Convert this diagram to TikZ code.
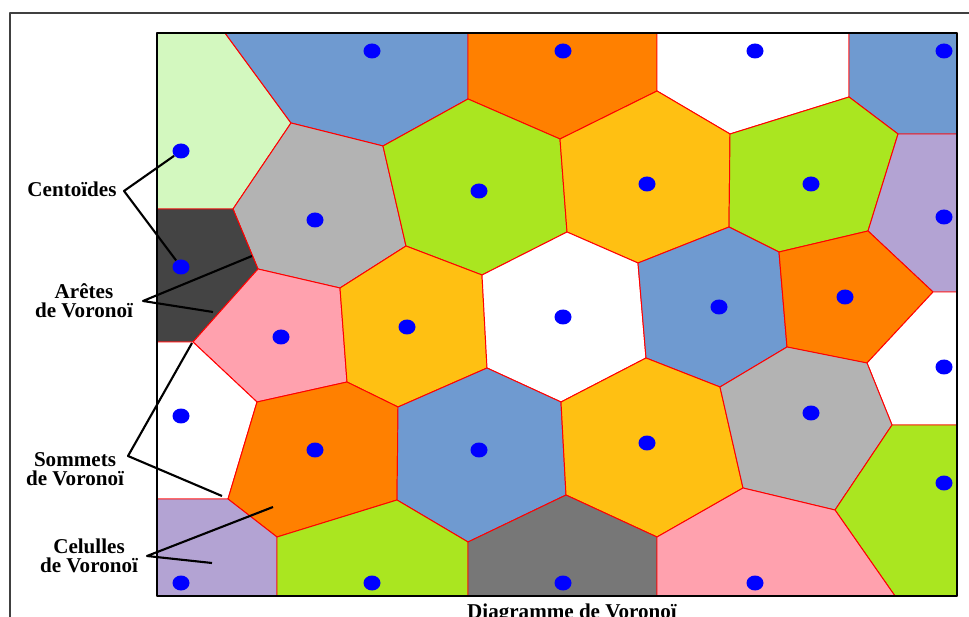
\documentclass[tikz,border=0pt]{standalone}
\usepackage{fontspec}
\setmainfont{Liberation Serif}
\usetikzlibrary{shapes.geometric}
\definecolor{cLime}{HTML}{D3F8BF}
\definecolor{cBlue}{HTML}{6F9AD0}
\definecolor{cOrange}{HTML}{FF8000}
\definecolor{cGrey}{HTML}{B3B3B3}
\definecolor{cGreen}{HTML}{AAE620}
\definecolor{cYellow}{HTML}{FFC012}
\definecolor{cBlack}{HTML}{444444}
\definecolor{cPink}{HTML}{FFA1AE}
\definecolor{cPurple}{HTML}{B3A3D3}
\definecolor{cDark}{HTML}{777777}
\begin{document}
\begin{tikzpicture}[x=0.02cm,y=-0.02cm,line join=round,
  cell/.style={draw=red,line width=0.55pt},
  site/.style={ellipse,fill=blue,inner sep=0pt,minimum width=0.34cm,minimum height=0.30cm},
  lead/.style={line width=1.2pt},
  lab/.style={font=\bfseries\fontsize{12}{10.6}\selectfont,align=center,inner sep=0pt}]
  \useasboundingbox (0,0) rectangle (969,617);
  \draw[line width=0.7pt,black!75] (10,640) -- (10,13) -- (990,13);
  \filldraw[cell,fill=cLime] (157,33) -- (225,33) -- (291,123) -- (233,209) -- (157,209) -- cycle;
  \filldraw[cell,fill=cBlue] (225,33) -- (468,33) -- (468,99) -- (383,146) -- (291,123) -- cycle;
  \filldraw[cell,fill=cOrange] (468,33) -- (657,33) -- (657,91) -- (560,139) -- (468,99) -- cycle;
  \filldraw[cell,fill=white] (657,33) -- (849,33) -- (849,97) -- (730,134) -- (657,91) -- cycle;
  \filldraw[cell,fill=cBlue] (849,33) -- (957,33) -- (957,134) -- (898,134) -- (849,97) -- cycle;
  \filldraw[cell,fill=cGrey] (291,123) -- (383,146) -- (406,246) -- (340,288) -- (258,269) -- (233,209) -- cycle;
  \filldraw[cell,fill=cGreen] (383,146) -- (468,99) -- (560,139) -- (567,232) -- (482,275) -- (406,246) -- cycle;
  \filldraw[cell,fill=cYellow] (560,139) -- (657,91) -- (730,134) -- (729,227) -- (638,263) -- (567,232) -- cycle;
  \filldraw[cell,fill=cGreen] (730,134) -- (849,97) -- (898,134) -- (868,231) -- (779,252) -- (729,227) -- cycle;
  \filldraw[cell,fill=cPurple] (898,134) -- (957,134) -- (957,292) -- (933,292) -- (868,231) -- cycle;
  \filldraw[cell,fill=cBlack] (157,209) -- (233,209) -- (258,269) -- (193,342) -- (157,342) -- cycle;
  \filldraw[cell,fill=cPink] (258,269) -- (340,288) -- (347,382) -- (257,402) -- (193,342) -- cycle;
  \filldraw[cell,fill=cYellow] (406,246) -- (482,275) -- (487,368) -- (398,407) -- (347,382) -- (340,288) -- cycle;
  \filldraw[cell,fill=white] (482,275) -- (567,232) -- (638,263) -- (646,358) -- (561,402) -- (487,368) -- cycle;
  \filldraw[cell,fill=cBlue] (638,263) -- (729,227) -- (779,252) -- (787,347) -- (720,387) -- (646,358) -- cycle;
  \filldraw[cell,fill=cOrange] (779,252) -- (868,231) -- (933,292) -- (867,363) -- (787,347) -- cycle;
  \filldraw[cell,fill=white] (933,292) -- (957,292) -- (957,425) -- (892,425) -- (867,363) -- cycle;
  \filldraw[cell,fill=white] (157,342) -- (193,342) -- (257,402) -- (228,499) -- (157,499) -- cycle;
  \filldraw[cell,fill=cOrange] (257,402) -- (347,382) -- (398,407) -- (397,500) -- (277,537) -- (228,499) -- cycle;
  \filldraw[cell,fill=cBlue] (398,407) -- (487,368) -- (561,402) -- (566,495) -- (468,542) -- (397,500) -- cycle;
  \filldraw[cell,fill=cYellow] (561,402) -- (646,358) -- (720,387) -- (743,488) -- (657,537) -- (566,495) -- cycle;
  \filldraw[cell,fill=cGrey] (720,387) -- (787,347) -- (867,363) -- (892,425) -- (835,510) -- (743,488) -- cycle;
  \filldraw[cell,fill=cGreen] (892,425) -- (957,425) -- (957,596) -- (895,596) -- (835,510) -- cycle;
  \filldraw[cell,fill=cPurple] (157,499) -- (228,499) -- (277,537) -- (277,596) -- (157,596) -- cycle;
  \filldraw[cell,fill=cGreen] (277,537) -- (397,500) -- (468,542) -- (468,596) -- (277,596) -- cycle;
  \filldraw[cell,fill=cDark] (468,542) -- (566,495) -- (657,537) -- (657,596) -- (468,596) -- cycle;
  \filldraw[cell,fill=cPink] (657,537) -- (743,488) -- (835,510) -- (895,596) -- (657,596) -- cycle;
  \draw[line width=0.8pt] (157,33) rectangle (957,596);
  \foreach \x/\y [count=\i] in {181/151,372/51,563/51,755/51,944/51,315/220,479/191,647/184,811/184,944/217,
    181/267,281/337,407/327,563/317,719/307,845/297,944/367,181/416,315/450,479/450,647/443,811/413,944/483,
    181/583,372/583,563/583,755/583}
    \node[site] (s\i) at (\x,\y) {};
  \node[lab,anchor=base] (centr) at (72,197) {Centoïdes};
  \coordinate (centrP) at (124,191);
  \draw[lead] (s1) -- (centrP) -- (s11);
  \node[lab] (arete) at (84,301) {Arêtes\\de Voronoï};
  \coordinate (areteP) at (143,301);
  \coordinate (arete1) at (252,256);
  \coordinate (arete2) at (213,312);
  \draw[lead] (arete1) -- (areteP) -- (arete2);
  \node[lab] (sommet) at (75,469) {Sommets\\de Voronoï};
  \coordinate (sommetP) at (128,456);
  \coordinate (sommet1) at (192,343);
  \coordinate (sommet2) at (222,496);
  \draw[lead] (sommet1) -- (sommetP) -- (sommet2);
  \node[lab] (cellule) at (89,556) {Celulles\\de Voronoï};
  \coordinate (celluleP) at (147,556);
  \coordinate (cellule1) at (273,507);
  \coordinate (cellule2) at (212,563);
  \draw[lead] (cellule1) -- (celluleP) -- (cellule2);
  \node[lab,anchor=base] (titre) at (572,618) {Diagramme de Voronoï};
\end{tikzpicture}
\end{document}
